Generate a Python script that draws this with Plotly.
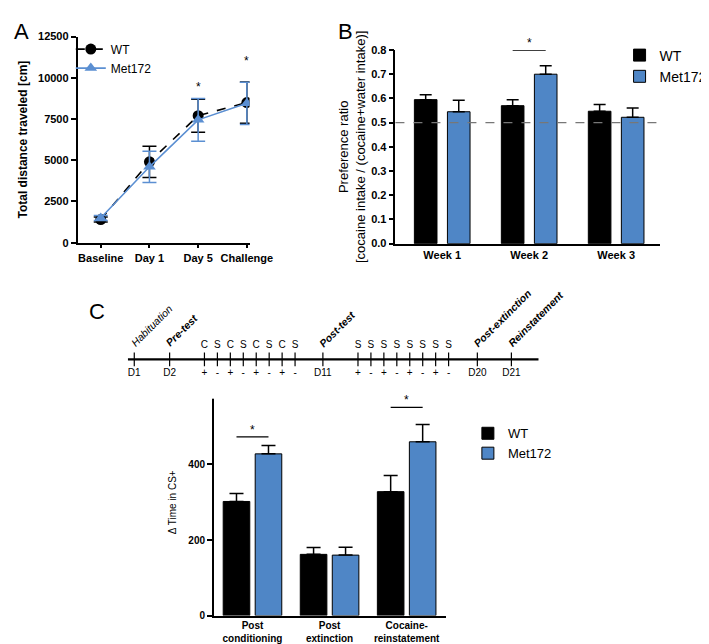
import plotly.graph_objects as go

W, H = 709, 644
BLUE = "#4f86c6"
LBLUE = "#5b8fd2"
FONT = "Liberation Sans, Arial, sans-serif"

# ---------------- Panel A data ----------------
a_cats = ["Baseline", "Day 1", "Day 5", "Challenge"]
a_wt = [1400, 4900, 7700, 8500]
a_wt_sem = [150, 950, 1000, 1250]
a_met = [1500, 4600, 7450, 8450]
a_met_sem = [150, 950, 1300, 1280]
a_star_cats = [2, 3]
a_star_y = [8900, 10450]
a_yticks = [0, 2500, 5000, 7500, 10000, 12500]

# ---------------- Panel B data ----------------
b_cats = ["Week 1", "Week 2", "Week 3"]
b_wt = [0.595, 0.570, 0.547]
b_wt_err = [0.020, 0.025, 0.028]
b_met = [0.545, 0.700, 0.522]
b_met_err = [0.047, 0.035, 0.038]
b_yticks = [0.0, 0.1, 0.2, 0.3, 0.4, 0.5, 0.6, 0.7, 0.8]
b_chance = 0.5
b_sig_cat = 1
b_sig_y = 0.8

# ---------------- Panel C timeline ----------------
tl_pos = [0, 2.73, 5.42, 6.42, 7.42, 8.42, 9.42, 10.42, 11.42, 12.42, 14.57,
          17.28, 18.28, 19.28, 20.28, 21.28, 22.28, 23.28, 24.28, 26.5, 29.13]
tl_top = ["", "", "C", "S", "C", "S", "C", "S", "C", "S", "",
          "S", "S", "S", "S", "S", "S", "S", "S", "", ""]
tl_bottom = ["D1", "D2", "+", "-", "+", "-", "+", "-", "+", "-", "D11",
             "+", "-", "+", "-", "+", "-", "+", "-", "D20", "D21"]
tl_events = ["Habituation", "Pre-test", "Post-test", "Post-extinction", "Reinstatement"]
tl_event_pos = [0, 2.73, 14.57, 26.5, 29.13]
tl_event_bold = [False, True, True, True, True]
tl_range = [-0.5, 31.24]

# ---------------- Panel C bars ----------------
c_cats = ["Post<br>conditioning", "Post<br>extinction", "Cocaine-<br>reinstatement"]
c_wt = [302, 162, 328]
c_wt_err = [21, 18, 43]
c_met = [428, 160, 460]
c_met_err = [22, 21, 46]
c_yticks = [0, 200, 400, 600]
c_sig_cats = [0, 2]
c_sig_y = [473, 551]


def px(x):
    return x / W


def py(y):
    return 1 - y / H


fig = go.Figure()

# Panel A
fig.add_trace(go.Scatter(
    x=list(range(len(a_cats))), y=a_wt, name="WT", mode="lines+markers",
    line=dict(color="black", width=1.6, dash="dash"),
    marker=dict(symbol="circle", size=11, color="black"),
    error_y=dict(type="data", array=a_wt_sem, color="black", thickness=1.5, width=7),
    xaxis="x", yaxis="y", legend="legend"))
fig.add_trace(go.Scatter(
    x=list(range(len(a_cats))), y=a_met, name="Met172", mode="lines+markers",
    line=dict(color=LBLUE, width=1.6),
    marker=dict(symbol="triangle-up", size=11, color=LBLUE),
    error_y=dict(type="data", array=a_met_sem, color=LBLUE, thickness=1.5, width=7),
    xaxis="x", yaxis="y", legend="legend"))

# Panel B
bw_b = 0.26
fig.add_trace(go.Bar(
    x=list(range(len(b_cats))), y=b_wt, name="WT", width=bw_b, offset=-0.32,
    marker=dict(color="black", line=dict(color="black", width=1)),
    error_y=dict(type="data", symmetric=False, array=b_wt_err, arrayminus=[0] * 3,
                 color="black", thickness=1.5, width=6),
    xaxis="x2", yaxis="y2", legend="legend2"))
fig.add_trace(go.Bar(
    x=list(range(len(b_cats))), y=b_met, name="Met172", width=bw_b, offset=0.06,
    marker=dict(color=BLUE, line=dict(color="black", width=1)),
    error_y=dict(type="data", symmetric=False, array=b_met_err, arrayminus=[0] * 3,
                 color="black", thickness=1.5, width=6),
    xaxis="x2", yaxis="y2", legend="legend2"))

# Panel C bars
bw_c = 0.345
fig.add_trace(go.Bar(
    x=list(range(len(c_cats))), y=c_wt, name="WT", width=bw_c, offset=-0.38,
    marker=dict(color="black", line=dict(color="black", width=1)),
    error_y=dict(type="data", symmetric=False, array=c_wt_err, arrayminus=[0] * 3,
                 color="black", thickness=1.5, width=7),
    xaxis="x3", yaxis="y3", legend="legend3"))
fig.add_trace(go.Bar(
    x=list(range(len(c_cats))), y=c_met, name="Met172", width=bw_c, offset=0.035,
    marker=dict(color=BLUE, line=dict(color="black", width=1)),
    error_y=dict(type="data", symmetric=False, array=c_met_err, arrayminus=[0] * 3,
                 color="black", thickness=1.5, width=7),
    xaxis="x3", yaxis="y3", legend="legend3"))

# Timeline
tx, ty = [], []
for p in tl_pos:
    tx += [p, p, None]
    ty += [-0.35, 0.35, None]
fig.add_trace(go.Scatter(x=tl_range, y=[0, 0], mode="lines",
                         line=dict(color="black", width=2.2), showlegend=False,
                         hoverinfo="skip", xaxis="x4", yaxis="y4"))
fig.add_trace(go.Scatter(x=tx, y=ty, mode="lines", line=dict(color="black", width=1.2),
                         showlegend=False, hoverinfo="skip", xaxis="x4", yaxis="y4"))
fig.add_trace(go.Scatter(x=tl_pos, y=[0.72] * len(tl_pos), mode="text", text=tl_top,
                         textfont=dict(size=10, color="black", family=FONT),
                         showlegend=False, hoverinfo="skip", xaxis="x4", yaxis="y4"))
fig.add_trace(go.Scatter(x=tl_pos, y=[-0.74] * len(tl_pos), mode="text", text=tl_bottom,
                         textfont=dict(size=10, color="black", family=FONT),
                         showlegend=False, hoverinfo="skip", xaxis="x4", yaxis="y4"))

annotations = []
shapes = []

for lab, pos, bold in zip(tl_events, tl_event_pos, tl_event_bold):
    txt = f"<b><i>{lab}</i></b>" if bold else f"<i>{lab}</i>"
    annotations.append(dict(x=pos, y=0.4, xref="x4", yref="y4", text=txt, showarrow=False,
                            textangle=-45, xanchor="left", yanchor="bottom", xshift=-9,
                            font=dict(size=10.5, color="black", family=FONT)))

# Panel letters
for letter, x, y in [("A", 4, 3), ("B", 339, 3), ("C", 82, 288)]:
    annotations.append(dict(x=px(x), y=py(y), xref="paper", yref="paper", text=letter,
                            showarrow=False, xanchor="left", yanchor="top",
                            font=dict(size=22, color="black", family=FONT)))

# Stars panel A
for c, yv in zip(a_star_cats, a_star_y):
    annotations.append(dict(x=c, y=yv, xref="x", yref="y", text="*", showarrow=False,
                            yanchor="bottom", font=dict(size=12, color="black", family=FONT)))

# Panel B significance
b_wt_c = -0.32 + bw_b / 2
b_met_c = 0.06 + bw_b / 2
shapes.append(dict(type="line", xref="x2", yref="y2", x0=b_sig_cat + b_wt_c,
                   x1=b_sig_cat + b_met_c, y0=b_sig_y, y1=b_sig_y,
                   line=dict(color="black", width=1.3)))
annotations.append(dict(x=b_sig_cat, y=b_sig_y, xref="x2", yref="y2", text="*",
                        showarrow=False, yanchor="bottom", yshift=-2,
                        font=dict(size=12, color="black", family=FONT)))
shapes.append(dict(type="line", xref="x2 domain", yref="y2", x0=0, x1=1,
                   y0=b_chance, y1=b_chance, line=dict(color="#777777", width=1.2, dash="dash"),
                   layer="above"))

# Panel C significance
c_wt_c = -0.38 + bw_c / 2
c_met_c = 0.035 + bw_c / 2
for c, yv in zip(c_sig_cats, c_sig_y):
    shapes.append(dict(type="line", xref="x3", yref="y3", x0=c + c_wt_c, x1=c + c_met_c,
                       y0=yv, y1=yv, line=dict(color="black", width=1.3)))
    annotations.append(dict(x=c, y=yv, xref="x3", yref="y3", text="*", showarrow=False,
                            yanchor="bottom", yshift=-2,
                            font=dict(size=12, color="black", family=FONT)))

axis_common = dict(showline=True, linecolor="black", linewidth=1.5, showgrid=False,
                   zeroline=False, ticks="outside", tickcolor="black", tickwidth=1.5,
                   ticklen=5)

fig.update_layout(
    width=W, height=H, margin=dict(l=0, r=0, t=0, b=0),
    paper_bgcolor="white", plot_bgcolor="white",
    font=dict(family=FONT, color="black"),
    barmode="overlay",
    xaxis=dict(domain=[px(72), px(250)], range=[-0.476, 3.055], anchor="y",
               tickvals=list(range(len(a_cats))), ticktext=[f"<b>{c}</b>" for c in a_cats],
               tickfont=dict(size=11), **{**axis_common, "ticklen": 4}),
    yaxis=dict(domain=[py(233), py(23)], range=[0, 12500], anchor="x",
               tickvals=a_yticks, ticktext=[f"<b>{v}</b>" for v in a_yticks],
               tickfont=dict(size=11),
               title=dict(text="<b>Total distance traveled [cm]</b>", font=dict(size=12),
                          standoff=8), **axis_common),
    xaxis2=dict(domain=[px(401), px(675)], range=[-0.538, 2.506], anchor="y2",
                tickvals=list(range(len(b_cats))), ticktext=[f"<b>{c}</b>" for c in b_cats],
                tickfont=dict(size=11), **{**axis_common, "ticks": ""}),
    yaxis2=dict(domain=[py(234), py(36.7)], range=[0, 0.8], anchor="x2",
                tickvals=b_yticks, ticktext=[f"<b>{v:.1f}</b>" for v in b_yticks],
                tickfont=dict(size=11),
                title=dict(text="Preference ratio<br>[cocaine intake / (cocaine+water intake)]",
                           font=dict(size=13), standoff=3), **axis_common),
    xaxis3=dict(domain=[px(213), px(453)], range=[-0.502, 2.506], anchor="y3",
                tickvals=list(range(len(c_cats))), ticktext=[f"<b>{c}</b>" for c in c_cats],
                tickfont=dict(size=10), **{**axis_common, "ticks": ""}),
    yaxis3=dict(domain=[py(613), py(382)], range=[0, 600], anchor="x3",
                tickvals=c_yticks, ticktext=[f"<b>{v}</b>" for v in c_yticks],
                tickfont=dict(size=10),
                title=dict(text="Δ Time in CS+", font=dict(size=10), standoff=10),
                **axis_common),
    xaxis4=dict(domain=[px(124), px(549.3)], range=tl_range, anchor="y4", visible=False),
    yaxis4=dict(domain=[py(392), py(312)], range=[-2, 2], anchor="x4", visible=False),
    legend=dict(x=px(65), y=py(21), xanchor="left", yanchor="top", font=dict(size=12),
                itemwidth=30, bgcolor="rgba(0,0,0,0)", tracegroupgap=0),
    legend2=dict(x=px(633), y=py(26), xanchor="left", yanchor="top", font=dict(size=14),
                 itemwidth=30, bgcolor="rgba(0,0,0,0)"),
    legend3=dict(x=px(476), y=py(412), xanchor="left", yanchor="top", font=dict(size=13),
                 itemwidth=30, bgcolor="rgba(0,0,0,0)"),
    annotations=annotations, shapes=shapes,
)

fig.write_html("out.html")
